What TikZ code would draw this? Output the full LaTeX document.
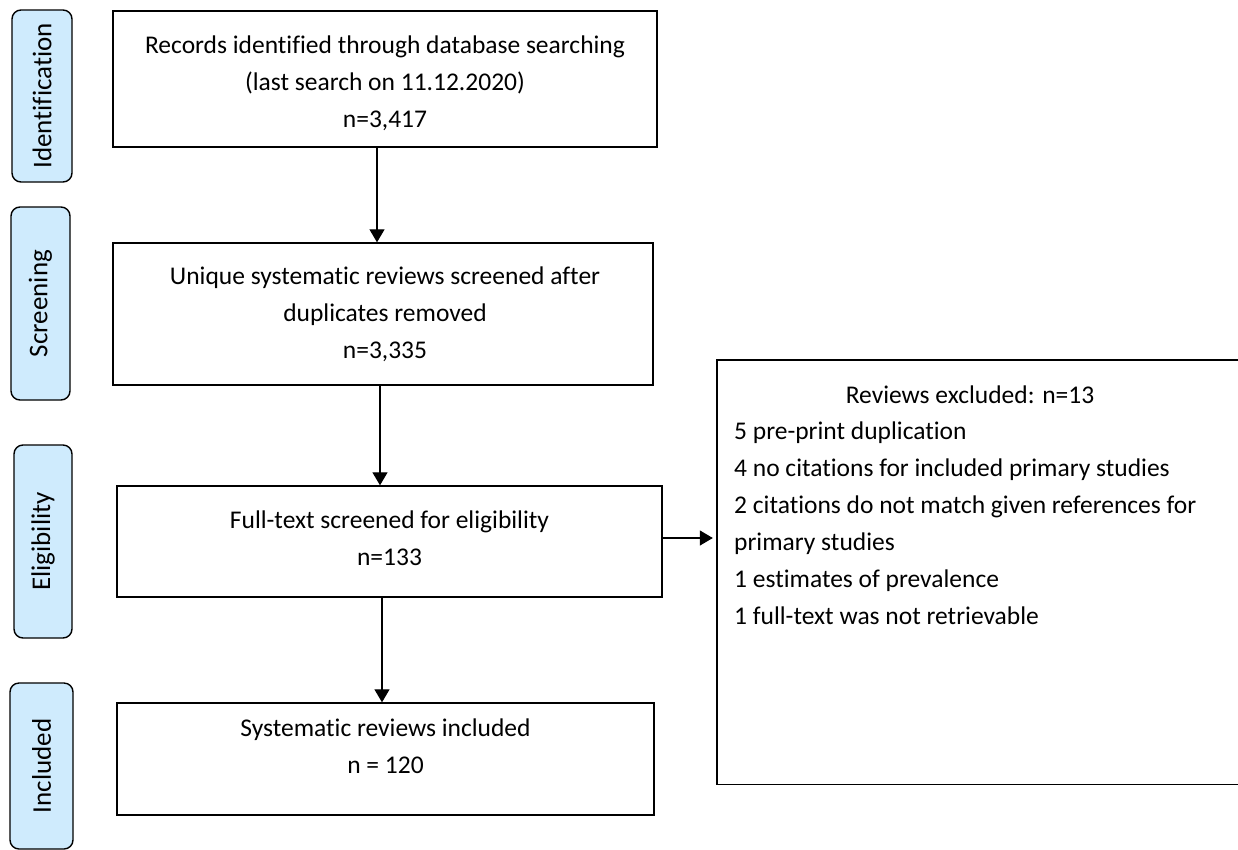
\documentclass[tikz,border=0pt]{standalone}
\usepackage{fontspec}
\setmainfont{Carlito}[Ligatures=CommonOff]
\usetikzlibrary{arrows.meta}
\definecolor{pillblue}{RGB}{207,235,253}
\tikzset{
  pill/.style={draw=black, fill=pillblue, line width=1.4pt, rounded corners=9pt, inner sep=0pt},
  pilltext/.style={rotate=90, font=\fontsize{27}{30}\selectfont},
  boxnode/.style={draw=black, line width=1.4pt, inner sep=0pt},
  txt/.style={font=\fontsize{25.5}{37}\selectfont, align=center, inner sep=0pt},
  ltxt/.style={font=\fontsize{25.5}{37}\selectfont, align=left, inner sep=0pt},
  arr/.style={line width=1.3pt, -{Triangle[length=13pt,width=15pt]}}
}
\begin{document}
\begin{tikzpicture}[x=1pt,y=-1pt]
\useasboundingbox (0,0) rectangle (1238,849);
% stage pills
\node[pill, minimum width=60pt, minimum height=172pt] (pid) at (42,96) {};
\node[pilltext] (pidt) at (pid.center) {Identification};
\node[pill, minimum width=59pt, minimum height=193pt] (psc) at (40.5,303.5) {};
\node[pilltext] (psct) at (psc.center) {Screening};
\node[pill, minimum width=58pt, minimum height=193pt] (pel) at (43,541.5) {};
\node[pilltext] (pelt) at (pel.center) {Eligibility};
\node[pill, minimum width=63pt, minimum height=166pt] (pin) at (41.5,766) {};
\node[pilltext] (pint) at (pin.center) {Included};
% main boxes
\node[boxnode, minimum width=544pt, minimum height=136pt] (b1) at (385,79) {};
\node[txt, anchor=base] (b1t) at (385,127) {Records identified through database searching\\(last search on 11.12.2020)\\n=3,417};
\node[boxnode, minimum width=540pt, minimum height=142pt] (b2) at (383,314) {};
\node[txt, anchor=base] (b2t) at (385,358) {Unique systematic reviews screened after\\duplicates removed\\n=3,335};
\node[boxnode, minimum width=545pt, minimum height=111pt] (b3) at (389.5,541.5) {};
\node[txt, anchor=base] (b3t) at (389.5,565) {Full-text screened for eligibility\\n=133};
\node[boxnode, minimum width=537pt, minimum height=112pt] (b4) at (385.5,759) {};
\node[txt, anchor=base] (b4t) at (385.5,773) {Systematic reviews included\\n = 120};
% exclusion box
\node[minimum width=540pt, minimum height=424pt, inner sep=0pt] (ex) at (987,572) {};
\draw[line width=1.4pt] (ex.north east) -- (ex.north west) -- (ex.south west) -- (ex.south east);
\node[txt, anchor=base] (ext) at (970,403) {Reviews excluded: n=13};
\node[ltxt, anchor=base west] (exl) at (734,624) {5 pre-print duplication\\4 no citations for included primary studies\\2 citations do not match given references for\\primary studies\\1 estimates of prevalence\\1 full-text was not retrievable};
% arrows
\draw[arr] ([xshift=-8pt]b1.south) -- ([xshift=-6pt]b2.north);
\draw[arr] ([xshift=-3pt]b2.south) -- ([xshift=-9.5pt]b3.north);
\draw[arr] ([xshift=-7.5pt]b3.south) -- ([xshift=-3.5pt]b4.north);
\coordinate (a4) at ([yshift=3.5pt]b3.east);
\draw[arr] (a4) -- ([xshift=-4pt]a4 -| ex.west);
\end{tikzpicture}
\end{document}
